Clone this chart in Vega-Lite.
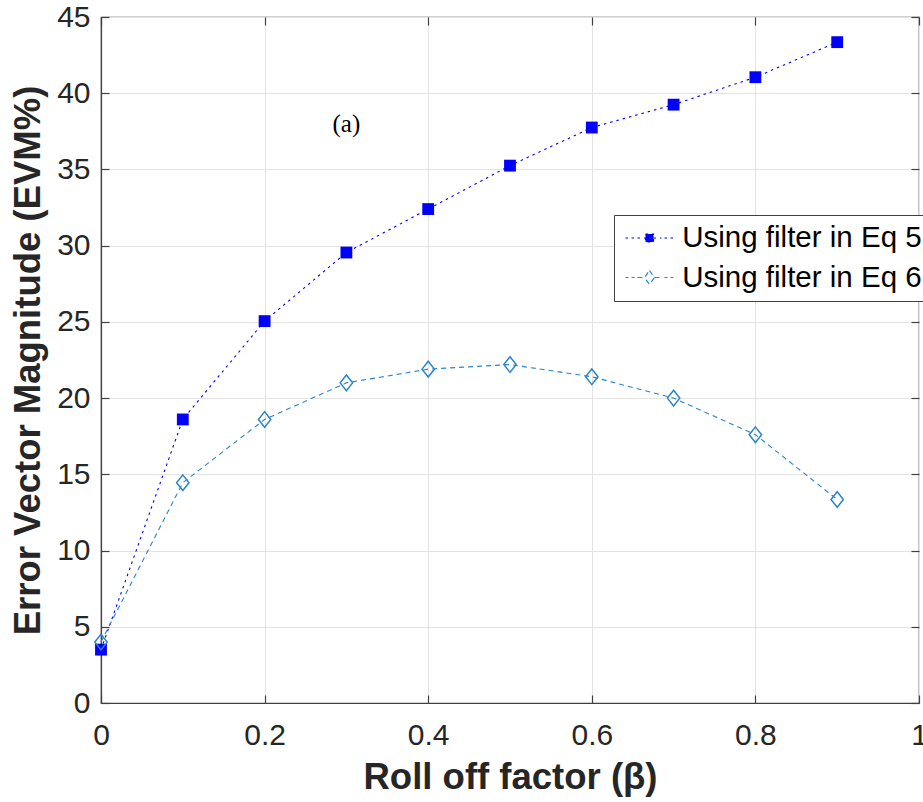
{
  "$schema": "https://vega.github.io/schema/vega-lite/v6.json",
  "width": 818,
  "height": 686,
  "autosize": {"type": "none"},
  "padding": {"left": 101, "top": 17, "right": 4, "bottom": 99},
  "background": "white",
  "datasets": {
    "evm": [
      {"beta": 0.0, "evm": 3.5, "series": "Using filter in Eq 5"},
      {"beta": 0.1, "evm": 18.6, "series": "Using filter in Eq 5"},
      {"beta": 0.2, "evm": 25.05, "series": "Using filter in Eq 5"},
      {"beta": 0.3, "evm": 29.55, "series": "Using filter in Eq 5"},
      {"beta": 0.4, "evm": 32.4, "series": "Using filter in Eq 5"},
      {"beta": 0.5, "evm": 35.25, "series": "Using filter in Eq 5"},
      {"beta": 0.6, "evm": 37.75, "series": "Using filter in Eq 5"},
      {"beta": 0.7, "evm": 39.25, "series": "Using filter in Eq 5"},
      {"beta": 0.8, "evm": 41.05, "series": "Using filter in Eq 5"},
      {"beta": 0.9, "evm": 43.35, "series": "Using filter in Eq 5"},
      {"beta": 0.0, "evm": 4.0, "series": "Using filter in Eq 6"},
      {"beta": 0.1, "evm": 14.45, "series": "Using filter in Eq 6"},
      {"beta": 0.2, "evm": 18.6, "series": "Using filter in Eq 6"},
      {"beta": 0.3, "evm": 21.0, "series": "Using filter in Eq 6"},
      {"beta": 0.4, "evm": 21.9, "series": "Using filter in Eq 6"},
      {"beta": 0.5, "evm": 22.2, "series": "Using filter in Eq 6"},
      {"beta": 0.6, "evm": 21.4, "series": "Using filter in Eq 6"},
      {"beta": 0.7, "evm": 20.0, "series": "Using filter in Eq 6"},
      {"beta": 0.8, "evm": 17.6, "series": "Using filter in Eq 6"},
      {"beta": 0.9, "evm": 13.35, "series": "Using filter in Eq 6"}
    ],
    "note": [{"beta": 0.3, "evm": 38.0, "label": "(a)"}]
  },
  "config": {
    "view": {"stroke": "#404040", "strokeWidth": 1.2},
    "axis": {
      "labelFont": "Liberation Sans",
      "labelFontSize": 30,
      "labelColor": "#262626",
      "titleFont": "Liberation Sans",
      "titleFontSize": 36.5,
      "titleFontWeight": "bold",
      "titleColor": "#262626",
      "domainColor": "#404040",
      "domainWidth": 1.2,
      "tickColor": "#404040",
      "tickWidth": 1.2,
      "tickSize": -8,
      "gridColor": "#e3e3e3",
      "gridWidth": 1
    }
  },
  "layer": [
    {
      "data": {"name": "evm"},
      "mark": {"type": "line", "strokeWidth": 1.1},
      "encoding": {
        "x": {
          "field": "beta", "type": "quantitative",
          "scale": {"domain": [0, 1], "nice": false},
          "axis": {"orient": "bottom", "values": [0, 0.2, 0.4, 0.6, 0.8, 1], "format": "~g", "labelPadding": 25, "title": "Roll off factor (β)", "titlePadding": 9, "labelFlush": false}
        },
        "y": {
          "field": "evm", "type": "quantitative",
          "scale": {"domain": [0, 45], "nice": false},
          "axis": {"orient": "left", "values": [0, 5, 10, 15, 20, 25, 30, 35, 40, 45], "labelPadding": 19, "title": "Error Vector Magnitude (EVM%)", "titlePadding": 9}
        },
        "color": {
          "field": "series", "type": "nominal",
          "scale": {"domain": ["Using filter in Eq 5", "Using filter in Eq 6"], "range": ["#0000ff", "#2a84cc"]},
          "legend": {
            "orient": "none",
            "legendX": 513,
            "legendY": 198,
            "title": null,
            "labelFont": "Liberation Sans",
            "labelFontSize": 29.5,
            "labelColor": "#000000",
            "symbolSize": 100,
            "symbolOffset": 12.5,
            "labelOffset": 18,
            "rowPadding": 8.5,
            "padding": 8.25,
            "strokeColor": "#404040",
            "fillColor": "white",
            "symbolStrokeWidth": 1.2,
            "labelLimit": 400,
            "encode": {
              "symbols": {
                "update": {
                  "shape": [
                    {"test": "datum.value === 'Using filter in Eq 5'", "value": "M-4.8,0H-4.2M-3.6,0H-3M-2.4,0H-0.8M-0.8,-0.8H0.8V0.8H-0.8ZM0.8,0H2.4M3,0H3.6M4.2,0H4.8"},
                    {"value": "M-4.8,0H-4.2M-3.6,0H-3M-2.4,0H-1M0,-1.4L1,0L0,1.4L-1,0ZM1,0H2.4M3,0H3.6M4.2,0H4.8"}
                  ],
                  "fill": [
                    {"test": "datum.value === 'Using filter in Eq 5'", "value": "#0000ff"},
                    {"value": "transparent"}
                  ],
                  "stroke": [
                    {"test": "datum.value === 'Using filter in Eq 5'", "value": "#0000ff"},
                    {"value": "#2a84cc"}
                  ],
                  "strokeDash": {"value": []},
                  "opacity": {"value": 1}
                }
              }
            }
          }
        },
        "strokeDash": {
          "field": "series", "type": "nominal",
          "scale": {"domain": ["Using filter in Eq 5", "Using filter in Eq 6"], "range": [[2.5, 4], [5, 4]]},
          "legend": null
        }
      }
    },
    {
      "data": {"name": "evm"},
      "transform": [{"filter": "datum.series === 'Using filter in Eq 5'"}],
      "mark": {"type": "point", "shape": "square", "filled": true, "size": 140, "color": "#0000ff", "opacity": 1},
      "encoding": {
        "x": {"field": "beta", "type": "quantitative", "axis": null},
        "y": {"field": "evm", "type": "quantitative", "axis": null}
      }
    },
    {
      "data": {"name": "evm"},
      "transform": [{"filter": "datum.series === 'Using filter in Eq 6'"}],
      "mark": {"type": "point", "shape": "M0,-1.2L0.95,0L0,1.2L-0.95,0Z", "filled": false, "size": 170, "color": "#2a84cc", "strokeWidth": 1.5, "opacity": 1},
      "encoding": {
        "x": {"field": "beta", "type": "quantitative", "axis": null},
        "y": {"field": "evm", "type": "quantitative", "axis": null}
      }
    },
    {
      "data": {"name": "note"},
      "mark": {"type": "text", "font": "Liberation Serif", "fontSize": 25, "color": "#000000", "align": "center", "baseline": "middle"},
      "encoding": {
        "x": {"field": "beta", "type": "quantitative", "axis": null},
        "y": {"field": "evm", "type": "quantitative", "axis": null},
        "text": {"field": "label"}
      }
    },
    {
      "data": {"name": "evm"},
      "mark": {"type": "point", "opacity": 0},
      "encoding": {
        "x": {"field": "beta", "type": "quantitative", "axis": {"orient": "top", "values": [0, 0.2, 0.4, 0.6, 0.8, 1], "labels": false, "grid": false, "domain": false, "title": null}},
        "y": {"field": "evm", "type": "quantitative", "axis": {"orient": "right", "values": [0, 5, 10, 15, 20, 25, 30, 35, 40, 45], "labels": false, "grid": false, "domain": false, "title": null}}
      }
    }
  ],
  "resolve": {"axis": {"x": "independent", "y": "independent"}}
}
